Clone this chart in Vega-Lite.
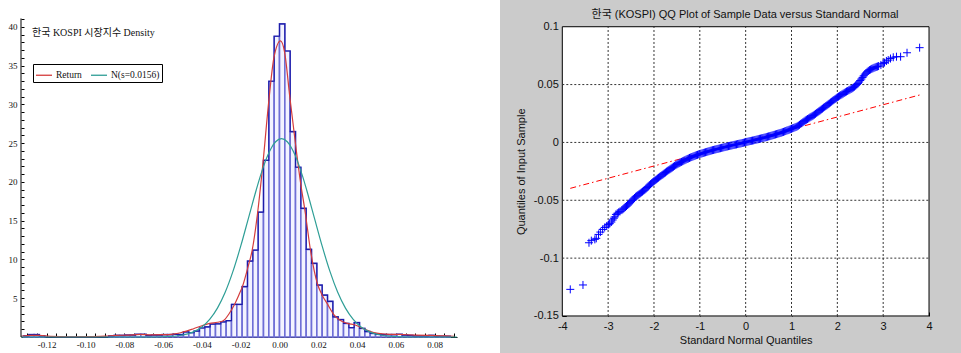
{
  "$schema": "https://vega.github.io/schema/vega-lite/v6.json",
  "padding": {"left": 8, "top": 0, "right": 0, "bottom": 0},
  "background": "white",
  "spacing": 40,
  "config": {"view": {"stroke": null}, "axis": {"labelOverlap": false, "labelFlush": false, "labelBound": false, "grid": false, "zindex": 1}},
  "datasets": {
    "hist": [
      {"lo": -0.132, "hi": -0.12925, "d": 0.15},
      {"lo": -0.12925, "hi": -0.1265, "d": 0.3},
      {"lo": -0.1265, "hi": -0.12375, "d": 0.3},
      {"lo": -0.12375, "hi": -0.121, "d": 0.15},
      {"lo": -0.121, "hi": -0.11825, "d": 0},
      {"lo": -0.088, "hi": -0.08525, "d": 0.15},
      {"lo": -0.08525, "hi": -0.0825, "d": 0.2},
      {"lo": -0.0825, "hi": -0.07975, "d": 0.2},
      {"lo": -0.07975, "hi": -0.077, "d": 0.25},
      {"lo": -0.077, "hi": -0.07425, "d": 0.25},
      {"lo": -0.07425, "hi": -0.0715, "d": 0.35},
      {"lo": -0.0715, "hi": -0.06875, "d": 0.35},
      {"lo": -0.06875, "hi": -0.066, "d": 0.2},
      {"lo": -0.066, "hi": -0.06325, "d": 0.25},
      {"lo": -0.06325, "hi": -0.0605, "d": 0.25},
      {"lo": -0.0605, "hi": -0.05775, "d": 0.3},
      {"lo": -0.05775, "hi": -0.055, "d": 0.3},
      {"lo": -0.055, "hi": -0.05225, "d": 0.35},
      {"lo": -0.05225, "hi": -0.0495, "d": 0.3},
      {"lo": -0.0495, "hi": -0.04675, "d": 0.65},
      {"lo": -0.04675, "hi": -0.044, "d": 0.55},
      {"lo": -0.044, "hi": -0.04125, "d": 0.77},
      {"lo": -0.04125, "hi": -0.0385, "d": 1.16},
      {"lo": -0.0385, "hi": -0.03575, "d": 1.3},
      {"lo": -0.03575, "hi": -0.033, "d": 1.67},
      {"lo": -0.033, "hi": -0.03025, "d": 1.7},
      {"lo": -0.03025, "hi": -0.0275, "d": 1.94},
      {"lo": -0.0275, "hi": -0.02475, "d": 2.1},
      {"lo": -0.02475, "hi": -0.022, "d": 4.2},
      {"lo": -0.022, "hi": -0.01925, "d": 4.2},
      {"lo": -0.01925, "hi": -0.0165, "d": 6.5},
      {"lo": -0.0165, "hi": -0.01375, "d": 9.8},
      {"lo": -0.01375, "hi": -0.011, "d": 11.2},
      {"lo": -0.011, "hi": -0.00825, "d": 16.1},
      {"lo": -0.00825, "hi": -0.0055, "d": 22.8},
      {"lo": -0.0055, "hi": -0.00275, "d": 33.0},
      {"lo": -0.00275, "hi": 0, "d": 38.8},
      {"lo": 0, "hi": 0.00275, "d": 40.4},
      {"lo": 0.00275, "hi": 0.0055, "d": 36.9},
      {"lo": 0.0055, "hi": 0.00825, "d": 26.5},
      {"lo": 0.00825, "hi": 0.011, "d": 21.9},
      {"lo": 0.011, "hi": 0.01375, "d": 16.6},
      {"lo": 0.01375, "hi": 0.0165, "d": 11.3},
      {"lo": 0.0165, "hi": 0.01925, "d": 9.5},
      {"lo": 0.01925, "hi": 0.022, "d": 6.7},
      {"lo": 0.022, "hi": 0.02475, "d": 5.4},
      {"lo": 0.02475, "hi": 0.0275, "d": 4.6},
      {"lo": 0.0275, "hi": 0.03025, "d": 2.6},
      {"lo": 0.03025, "hi": 0.033, "d": 2.25},
      {"lo": 0.033, "hi": 0.03575, "d": 1.75},
      {"lo": 0.03575, "hi": 0.0385, "d": 1.2},
      {"lo": 0.0385, "hi": 0.04125, "d": 1.85},
      {"lo": 0.04125, "hi": 0.044, "d": 1.1},
      {"lo": 0.044, "hi": 0.04675, "d": 0.7},
      {"lo": 0.04675, "hi": 0.0495, "d": 0.45},
      {"lo": 0.0495, "hi": 0.05225, "d": 0.35},
      {"lo": 0.05225, "hi": 0.055, "d": 0.3},
      {"lo": 0.055, "hi": 0.05775, "d": 0.3},
      {"lo": 0.05775, "hi": 0.0605, "d": 0.3},
      {"lo": 0.0605, "hi": 0.06325, "d": 0.35},
      {"lo": 0.06325, "hi": 0.066, "d": 0.25},
      {"lo": 0.066, "hi": 0.06875, "d": 0.2},
      {"lo": 0.06875, "hi": 0.0715, "d": 0.15},
      {"lo": 0.0715, "hi": 0.07425, "d": 0.15},
      {"lo": 0.07425, "hi": 0.077, "d": 0.15},
      {"lo": 0.077, "hi": 0.07975, "d": 0.2},
      {"lo": 0.07975, "hi": 0.0825, "d": 0.1},
      {"lo": 0.0825, "hi": 0.08525, "d": 0.1},
      {"lo": 0.08525, "hi": 0.088, "d": 0.1},
      {"lo": 0.088, "hi": 0.09075, "d": 0}
    ],
    "curves": [
      {"x": -0.1332, "y": 0.1, "series": "Return"},
      {"x": -0.128, "y": 0.2, "series": "Return"},
      {"x": -0.124, "y": 0.2, "series": "Return"},
      {"x": -0.118, "y": 0.08, "series": "Return"},
      {"x": -0.108, "y": 0.03, "series": "Return"},
      {"x": -0.098, "y": 0.05, "series": "Return"},
      {"x": -0.09, "y": 0.12, "series": "Return"},
      {"x": -0.084, "y": 0.2, "series": "Return"},
      {"x": -0.078, "y": 0.25, "series": "Return"},
      {"x": -0.072, "y": 0.33, "series": "Return"},
      {"x": -0.066, "y": 0.28, "series": "Return"},
      {"x": -0.06, "y": 0.3, "series": "Return"},
      {"x": -0.055, "y": 0.38, "series": "Return"},
      {"x": -0.051, "y": 0.55, "series": "Return"},
      {"x": -0.048, "y": 0.75, "series": "Return"},
      {"x": -0.044, "y": 1.1, "series": "Return"},
      {"x": -0.04, "y": 1.45, "series": "Return"},
      {"x": -0.036, "y": 1.75, "series": "Return"},
      {"x": -0.032, "y": 1.9, "series": "Return"},
      {"x": -0.029, "y": 2.1, "series": "Return"},
      {"x": -0.026, "y": 3.0, "series": "Return"},
      {"x": -0.0234, "y": 4.1, "series": "Return"},
      {"x": -0.021, "y": 5.4, "series": "Return"},
      {"x": -0.019, "y": 6.6, "series": "Return"},
      {"x": -0.0165, "y": 8.8, "series": "Return"},
      {"x": -0.014, "y": 11.3, "series": "Return"},
      {"x": -0.0114, "y": 15.8, "series": "Return"},
      {"x": -0.0087, "y": 22, "series": "Return"},
      {"x": -0.0055, "y": 30.5, "series": "Return"},
      {"x": -0.0029, "y": 36, "series": "Return"},
      {"x": 0.0005, "y": 38.2, "series": "Return"},
      {"x": 0.0026, "y": 36.8, "series": "Return"},
      {"x": 0.0053, "y": 31, "series": "Return"},
      {"x": 0.0082, "y": 25, "series": "Return"},
      {"x": 0.0108, "y": 20, "series": "Return"},
      {"x": 0.0133, "y": 16, "series": "Return"},
      {"x": 0.0159, "y": 11.3, "series": "Return"},
      {"x": 0.0195, "y": 6.9, "series": "Return"},
      {"x": 0.022, "y": 5.4, "series": "Return"},
      {"x": 0.0246, "y": 4.3, "series": "Return"},
      {"x": 0.028, "y": 2.9, "series": "Return"},
      {"x": 0.031, "y": 2.2, "series": "Return"},
      {"x": 0.035, "y": 1.75, "series": "Return"},
      {"x": 0.039, "y": 1.55, "series": "Return"},
      {"x": 0.043, "y": 1.1, "series": "Return"},
      {"x": 0.047, "y": 0.7, "series": "Return"},
      {"x": 0.05, "y": 0.5, "series": "Return"},
      {"x": 0.055, "y": 0.38, "series": "Return"},
      {"x": 0.062, "y": 0.33, "series": "Return"},
      {"x": 0.07, "y": 0.25, "series": "Return"},
      {"x": 0.078, "y": 0.2, "series": "Return"},
      {"x": 0.0855, "y": 0.15, "series": "Return"},
      {"x": 0.09, "y": 0.1, "series": "Return"},
      {"x": -0.1332, "y": 0, "series": "N(s=0.0156)"},
      {"x": -0.09, "y": 0, "series": "N(s=0.0156)"},
      {"x": -0.07, "y": 0.003, "series": "N(s=0.0156)"},
      {"x": -0.06, "y": 0.035, "series": "N(s=0.0156)"},
      {"x": -0.05, "y": 0.255, "series": "N(s=0.0156)"},
      {"x": -0.045, "y": 0.603, "series": "N(s=0.0156)"},
      {"x": -0.04, "y": 1.3, "series": "N(s=0.0156)"},
      {"x": -0.036, "y": 2.27, "series": "N(s=0.0156)"},
      {"x": -0.032, "y": 3.72, "series": "N(s=0.0156)"},
      {"x": -0.028, "y": 5.77, "series": "N(s=0.0156)"},
      {"x": -0.024, "y": 8.46, "series": "N(s=0.0156)"},
      {"x": -0.02, "y": 11.72, "series": "N(s=0.0156)"},
      {"x": -0.016, "y": 15.34, "series": "N(s=0.0156)"},
      {"x": -0.012, "y": 18.97, "series": "N(s=0.0156)"},
      {"x": -0.01, "y": 20.66, "series": "N(s=0.0156)"},
      {"x": -0.008, "y": 22.17, "series": "N(s=0.0156)"},
      {"x": -0.006, "y": 23.47, "series": "N(s=0.0156)"},
      {"x": -0.004, "y": 24.49, "series": "N(s=0.0156)"},
      {"x": -0.002, "y": 25.19, "series": "N(s=0.0156)"},
      {"x": 0.001, "y": 25.6, "series": "N(s=0.0156)"},
      {"x": 0.004, "y": 25.19, "series": "N(s=0.0156)"},
      {"x": 0.006, "y": 24.49, "series": "N(s=0.0156)"},
      {"x": 0.008, "y": 23.47, "series": "N(s=0.0156)"},
      {"x": 0.01, "y": 22.17, "series": "N(s=0.0156)"},
      {"x": 0.012, "y": 20.66, "series": "N(s=0.0156)"},
      {"x": 0.014, "y": 18.97, "series": "N(s=0.0156)"},
      {"x": 0.018, "y": 15.34, "series": "N(s=0.0156)"},
      {"x": 0.022, "y": 11.72, "series": "N(s=0.0156)"},
      {"x": 0.026, "y": 8.46, "series": "N(s=0.0156)"},
      {"x": 0.03, "y": 5.77, "series": "N(s=0.0156)"},
      {"x": 0.034, "y": 3.72, "series": "N(s=0.0156)"},
      {"x": 0.038, "y": 2.27, "series": "N(s=0.0156)"},
      {"x": 0.042, "y": 1.3, "series": "N(s=0.0156)"},
      {"x": 0.047, "y": 0.603, "series": "N(s=0.0156)"},
      {"x": 0.052, "y": 0.255, "series": "N(s=0.0156)"},
      {"x": 0.062, "y": 0.035, "series": "N(s=0.0156)"},
      {"x": 0.072, "y": 0.003, "series": "N(s=0.0156)"},
      {"x": 0.0914, "y": 0, "series": "N(s=0.0156)"}
    ],
    "qq": [
      {"q": -3.826, "v": -0.127}, {"q": -3.549, "v": -0.1232}, {"q": -3.418, "v": -0.0867}, {"q": -3.367, "v": -0.0849},
      {"q": -3.29, "v": -0.0838}, {"q": -3.258, "v": -0.0829}, {"q": -3.21, "v": -0.0795}, {"q": -3.17, "v": -0.0775},
      {"q": -3.12, "v": -0.0752}, {"q": -3.075, "v": -0.0735}, {"q": -3.03, "v": -0.0722}, {"q": -2.99, "v": -0.071},
      {"q": -2.966, "v": -0.0702}, {"q": -2.93, "v": -0.0688}, {"q": -2.9, "v": -0.067}, {"q": -2.875, "v": -0.0655},
      {"q": -2.857, "v": -0.0644}, {"q": -2.83, "v": -0.0622}, {"q": -2.8, "v": -0.0612}, {"q": -2.77, "v": -0.0604},
      {"q": -2.74, "v": -0.0596}, {"q": -2.7, "v": -0.0585}, {"q": -2.675, "v": -0.0577}, {"q": -2.65, "v": -0.0568},
      {"q": -2.625, "v": -0.0559}, {"q": -2.6, "v": -0.055}, {"q": -2.575, "v": -0.054}, {"q": -2.55, "v": -0.053},
      {"q": -2.525, "v": -0.0521}, {"q": -2.5, "v": -0.0512}, {"q": -2.475, "v": -0.0501}, {"q": -2.45, "v": -0.049},
      {"q": -2.425, "v": -0.048}, {"q": -2.4, "v": -0.047}, {"q": -2.375, "v": -0.0462}, {"q": -2.35, "v": -0.0455},
      {"q": -2.325, "v": -0.0447}, {"q": -2.3, "v": -0.044}, {"q": -2.275, "v": -0.0432}, {"q": -2.25, "v": -0.0425},
      {"q": -2.225, "v": -0.0417}, {"q": -2.2, "v": -0.041}, {"q": -2.175, "v": -0.04}, {"q": -2.15, "v": -0.039},
      {"q": -2.125, "v": -0.038}, {"q": -2.1, "v": -0.037}, {"q": -2.075, "v": -0.0361}, {"q": -2.05, "v": -0.0352},
      {"q": -2.025, "v": -0.0343}, {"q": -2.0, "v": -0.0335}, {"q": -1.975, "v": -0.0327}, {"q": -1.95, "v": -0.032},
      {"q": -1.925, "v": -0.0312}, {"q": -1.9, "v": -0.0305}, {"q": -1.875, "v": -0.0297}, {"q": -1.85, "v": -0.029},
      {"q": -1.825, "v": -0.0282}, {"q": -1.8, "v": -0.0275}, {"q": -1.775, "v": -0.0267}, {"q": -1.75, "v": -0.026},
      {"q": -1.725, "v": -0.0252}, {"q": -1.7, "v": -0.0245}, {"q": -1.675, "v": -0.0238}, {"q": -1.65, "v": -0.0231},
      {"q": -1.625, "v": -0.0224}, {"q": -1.6, "v": -0.0217}, {"q": -1.575, "v": -0.021}, {"q": -1.55, "v": -0.0203},
      {"q": -1.525, "v": -0.0196}, {"q": -1.5, "v": -0.019}, {"q": -1.475, "v": -0.0184}, {"q": -1.45, "v": -0.0179},
      {"q": -1.425, "v": -0.0173}, {"q": -1.4, "v": -0.0168}, {"q": -1.375, "v": -0.0163}, {"q": -1.35, "v": -0.0158},
      {"q": -1.325, "v": -0.0153}, {"q": -1.3, "v": -0.0148}, {"q": -1.275, "v": -0.0143}, {"q": -1.25, "v": -0.0139},
      {"q": -1.225, "v": -0.0134}, {"q": -1.2, "v": -0.013}, {"q": -1.175, "v": -0.0126}, {"q": -1.15, "v": -0.0122},
      {"q": -1.125, "v": -0.0118}, {"q": -1.1, "v": -0.0114}, {"q": -1.075, "v": -0.011}, {"q": -1.05, "v": -0.0107},
      {"q": -1.025, "v": -0.0103}, {"q": -1.0, "v": -0.01}, {"q": -0.975, "v": -0.0097}, {"q": -0.95, "v": -0.0094},
      {"q": -0.925, "v": -0.0091}, {"q": -0.9, "v": -0.0088}, {"q": -0.875, "v": -0.0085}, {"q": -0.85, "v": -0.0082},
      {"q": -0.825, "v": -0.0079}, {"q": -0.8, "v": -0.0076}, {"q": -0.775, "v": -0.0073}, {"q": -0.75, "v": -0.007},
      {"q": -0.725, "v": -0.0067}, {"q": -0.7, "v": -0.0065}, {"q": -0.675, "v": -0.0062}, {"q": -0.65, "v": -0.006},
      {"q": -0.625, "v": -0.0057}, {"q": -0.6, "v": -0.0055}, {"q": -0.575, "v": -0.0052}, {"q": -0.55, "v": -0.005},
      {"q": -0.525, "v": -0.0047}, {"q": -0.5, "v": -0.0045}, {"q": -0.475, "v": -0.0042}, {"q": -0.45, "v": -0.004},
      {"q": -0.425, "v": -0.0037}, {"q": -0.4, "v": -0.0035}, {"q": -0.375, "v": -0.0032}, {"q": -0.35, "v": -0.003},
      {"q": -0.325, "v": -0.0028}, {"q": -0.3, "v": -0.0026}, {"q": -0.275, "v": -0.0023}, {"q": -0.25, "v": -0.0021},
      {"q": -0.225, "v": -0.0019}, {"q": -0.2, "v": -0.0017}, {"q": -0.175, "v": -0.0014}, {"q": -0.15, "v": -0.0012},
      {"q": -0.125, "v": -0.001}, {"q": -0.1, "v": -0.0008}, {"q": -0.075, "v": -0.0005}, {"q": -0.05, "v": -0.0003},
      {"q": -0.025, "v": 0.0}, {"q": 0.0, "v": 0.0003}, {"q": 0.025, "v": 0.0005}, {"q": 0.05, "v": 0.0007},
      {"q": 0.075, "v": 0.001}, {"q": 0.1, "v": 0.0012}, {"q": 0.125, "v": 0.0014}, {"q": 0.15, "v": 0.0016},
      {"q": 0.175, "v": 0.0018}, {"q": 0.2, "v": 0.0021}, {"q": 0.225, "v": 0.0023}, {"q": 0.25, "v": 0.0026},
      {"q": 0.275, "v": 0.0028}, {"q": 0.3, "v": 0.0031}, {"q": 0.325, "v": 0.0033}, {"q": 0.35, "v": 0.0036},
      {"q": 0.375, "v": 0.0038}, {"q": 0.4, "v": 0.0041}, {"q": 0.425, "v": 0.0043}, {"q": 0.45, "v": 0.0046},
      {"q": 0.475, "v": 0.0049}, {"q": 0.5, "v": 0.0052}, {"q": 0.525, "v": 0.0054}, {"q": 0.55, "v": 0.0057},
      {"q": 0.575, "v": 0.006}, {"q": 0.6, "v": 0.0063}, {"q": 0.625, "v": 0.0066}, {"q": 0.65, "v": 0.0069},
      {"q": 0.675, "v": 0.0072}, {"q": 0.7, "v": 0.0075}, {"q": 0.725, "v": 0.0078}, {"q": 0.75, "v": 0.0081},
      {"q": 0.775, "v": 0.0084}, {"q": 0.8, "v": 0.0088}, {"q": 0.825, "v": 0.0091}, {"q": 0.85, "v": 0.0095},
      {"q": 0.875, "v": 0.0099}, {"q": 0.9, "v": 0.0103}, {"q": 0.925, "v": 0.0106}, {"q": 0.95, "v": 0.011},
      {"q": 0.975, "v": 0.0114}, {"q": 1.0, "v": 0.0118}, {"q": 1.025, "v": 0.0122}, {"q": 1.05, "v": 0.0126},
      {"q": 1.075, "v": 0.013}, {"q": 1.1, "v": 0.0134}, {"q": 1.125, "v": 0.0139}, {"q": 1.15, "v": 0.0145},
      {"q": 1.175, "v": 0.0152}, {"q": 1.2, "v": 0.016}, {"q": 1.225, "v": 0.0167}, {"q": 1.25, "v": 0.0175},
      {"q": 1.275, "v": 0.0182}, {"q": 1.3, "v": 0.019}, {"q": 1.325, "v": 0.0196}, {"q": 1.35, "v": 0.0202},
      {"q": 1.375, "v": 0.0208}, {"q": 1.4, "v": 0.0215}, {"q": 1.425, "v": 0.0221}, {"q": 1.45, "v": 0.0227},
      {"q": 1.475, "v": 0.0233}, {"q": 1.5, "v": 0.024}, {"q": 1.525, "v": 0.0247}, {"q": 1.55, "v": 0.0255},
      {"q": 1.575, "v": 0.0262}, {"q": 1.6, "v": 0.027}, {"q": 1.625, "v": 0.0277}, {"q": 1.65, "v": 0.0285},
      {"q": 1.675, "v": 0.0292}, {"q": 1.7, "v": 0.03}, {"q": 1.725, "v": 0.0307}, {"q": 1.75, "v": 0.0315},
      {"q": 1.775, "v": 0.0322}, {"q": 1.8, "v": 0.033}, {"q": 1.825, "v": 0.0337}, {"q": 1.85, "v": 0.0345},
      {"q": 1.875, "v": 0.0352}, {"q": 1.9, "v": 0.036}, {"q": 1.925, "v": 0.0367}, {"q": 1.95, "v": 0.0375},
      {"q": 1.975, "v": 0.0382}, {"q": 2.0, "v": 0.039}, {"q": 2.025, "v": 0.0396}, {"q": 2.05, "v": 0.0403},
      {"q": 2.075, "v": 0.0409}, {"q": 2.1, "v": 0.0415}, {"q": 2.125, "v": 0.0421}, {"q": 2.15, "v": 0.0428},
      {"q": 2.175, "v": 0.0434}, {"q": 2.2, "v": 0.044}, {"q": 2.225, "v": 0.0445}, {"q": 2.25, "v": 0.0451},
      {"q": 2.275, "v": 0.0456}, {"q": 2.3, "v": 0.0462}, {"q": 2.325, "v": 0.0468}, {"q": 2.35, "v": 0.0475},
      {"q": 2.375, "v": 0.0482}, {"q": 2.4, "v": 0.049}, {"q": 2.425, "v": 0.05}, {"q": 2.45, "v": 0.051},
      {"q": 2.475, "v": 0.0522}, {"q": 2.5, "v": 0.0535}, {"q": 2.525, "v": 0.0548}, {"q": 2.55, "v": 0.0562},
      {"q": 2.575, "v": 0.0576}, {"q": 2.6, "v": 0.059}, {"q": 2.625, "v": 0.06}, {"q": 2.65, "v": 0.061},
      {"q": 2.675, "v": 0.0618}, {"q": 2.7, "v": 0.0625}, {"q": 2.725, "v": 0.063}, {"q": 2.75, "v": 0.0636},
      {"q": 2.775, "v": 0.064}, {"q": 2.8, "v": 0.0645}, {"q": 2.825, "v": 0.0649}, {"q": 2.85, "v": 0.0653},
      {"q": 2.875, "v": 0.0656}, {"q": 2.9, "v": 0.066}, {"q": 2.95, "v": 0.067}, {"q": 3.0, "v": 0.0683},
      {"q": 3.03, "v": 0.069}, {"q": 3.07, "v": 0.0704}, {"q": 3.11, "v": 0.0712}, {"q": 3.16, "v": 0.0725},
      {"q": 3.22, "v": 0.0736}, {"q": 3.29, "v": 0.0741}, {"q": 3.38, "v": 0.0741}, {"q": 3.52, "v": 0.0775},
      {"q": 3.795, "v": 0.0819}
    ]
  },
  "hconcat": [
    {
      "width": 436,
      "height": 337,
      "title": {
        "text": "한국 KOSPI 시장지수 Density",
        "anchor": "start",
        "frame": "group",
        "offset": -38,
        "dx": 11,
        "font": "Liberation Serif, Noto Sans CJK KR",
        "fontSize": 10,
        "fontWeight": "normal",
        "color": "#111111"
      },
      "layer": [
        {
          "data": {"name": "hist"},
          "transform": [{"filter": "datum.d > 0"}],
          "mark": {"type": "rect", "fill": "#f3f3ff", "stroke": "#6e6ed6", "strokeWidth": 1.6},
          "encoding": {
            "x": {
              "field": "lo", "type": "quantitative", "title": null,
              "scale": {"domain": [-0.13325, 0.09149], "nice": false, "zero": false},
              "axis": {
                "values": [-0.13, -0.125, -0.12, -0.115, -0.11, -0.105, -0.1, -0.095, -0.09, -0.085, -0.08, -0.075, -0.07, -0.065, -0.06, -0.055, -0.05, -0.045, -0.04, -0.035, -0.03, -0.025, -0.02, -0.015, -0.01, -0.005, 0, 0.005, 0.01, 0.015, 0.02, 0.025, 0.03, 0.035, 0.04, 0.045, 0.05, 0.055, 0.06, 0.065, 0.07, 0.075, 0.08, 0.085, 0.09],
                "tickCount": 200,
                "labelExpr": "abs(round(datum.value * 1000) % 20) == 0 ? replace(format(datum.value, '.2f'), '\u2212', '-') : ''",
                "labelOverlap": false,
                "labelFlush": false,
                "domain": true,
                "domainColor": "#000000",
                "domainWidth": 1,
                "ticks": true,
                "tickSize": -4,
                "tickColor": "#000000",
                "labelPadding": 7,
                "labelFont": "Liberation Serif",
                "labelFontSize": 9,
                "labelColor": "#111111"
              }
            },
            "x2": {"field": "hi"},
            "y": {
              "field": "d", "type": "quantitative", "title": null,
              "scale": {"domain": [0, 43.48], "nice": false, "zero": false},
              "axis": {
                "values": [1, 2, 3, 4, 5, 6, 7, 8, 9, 10, 11, 12, 13, 14, 15, 16, 17, 18, 19, 20, 21, 22, 23, 24, 25, 26, 27, 28, 29, 30, 31, 32, 33, 34, 35, 36, 37, 38, 39, 40, 41],
                "tickCount": 200,
                "labelExpr": "datum.value % 5 == 0 ? '' + datum.value : ''",
                "labelOverlap": false,
                "domain": false,
                "ticks": true,
                "tickSize": -3,
                "tickColor": "#000000",
                "labelPadding": 7,
                "labelFont": "Liberation Serif",
                "labelFontSize": 9,
                "labelColor": "#111111"
              }
            },
            "y2": {"datum": 0}
          }
        },
        {
          "data": {"name": "hist"},
          "mark": {"type": "line", "interpolate": "step-after", "color": "#1c1ca8", "strokeWidth": 1.2},
          "encoding": {
            "x": {"field": "lo", "type": "quantitative", "title": null, "scale": {"domain": [-0.13325, 0.09149], "nice": false, "zero": false}},
            "y": {"field": "d", "type": "quantitative", "title": null, "scale": {"domain": [0, 43.48], "nice": false, "zero": false}}
          }
        },
        {
          "data": {"name": "curves"},
          "mark": {"type": "line", "interpolate": "monotone", "strokeWidth": 1.2},
          "encoding": {
            "x": {"field": "x", "type": "quantitative", "title": null, "scale": {"domain": [-0.13325, 0.09149], "nice": false, "zero": false}},
            "y": {"field": "y", "type": "quantitative", "title": null, "scale": {"domain": [0, 43.48], "nice": false, "zero": false}},
            "color": {
              "field": "series", "type": "nominal",
              "scale": {"domain": ["Return", "N(s=0.0156)"], "range": ["#d43c3c", "#2e9e96"]},
              "legend": {
                "title": null,
                "orient": "none",
                "legendX": 12,
                "legendY": 64,
                "direction": "horizontal",
                "strokeColor": "#000000",
                "fillColor": "#ffffff",
                "padding": 2,
                "cornerRadius": 0,
                "symbolType": "stroke",
                "symbolSize": 256,
                "symbolStrokeWidth": 1.3,
                "labelFont": "Liberation Serif",
                "labelFontSize": 9.5,
                "labelColor": "#111111",
                "labelOffset": 3,
                "columnPadding": 6
              }
            }
          }
        },
        {
          "data": {"values": [{"xa": -0.13325, "ya": 0, "yb": 41.1}]},
          "mark": {"type": "rule", "color": "#000000", "strokeWidth": 1},
          "encoding": {
            "x": {"field": "xa", "type": "quantitative", "title": null, "scale": {"domain": [-0.13325, 0.09149], "nice": false, "zero": false}},
            "y": {"field": "ya", "type": "quantitative", "title": null, "scale": {"domain": [0, 43.48], "nice": false, "zero": false}},
            "y2": {"field": "yb"}
          }
        }
      ]
    },
    {
      "width": 464,
      "height": 353,
      "view": {"fill": "#cbcbcb", "stroke": null},
      "title": {
        "text": "한국 (KOSPI) QQ Plot of Sample Data versus Standard Normal",
        "anchor": "middle",
        "frame": "group",
        "offset": -20,
        "dx": 13,
        "font": "Liberation Sans, Noto Sans CJK KR",
        "fontSize": 11,
        "fontWeight": "normal",
        "color": "#111111"
      },
      "layer": [
        {
          "data": {"values": [{"q0": -4, "q1": 4, "v0": -0.15, "v1": 0.1}]},
          "mark": {"type": "rect", "fill": "#ffffff", "stroke": "#000000", "strokeWidth": 1},
          "encoding": {
            "x": {"field": "q0", "type": "quantitative", "title": "Standard Normal Quantiles", "scale": {"domain": [-5.359, 4.763], "nice": false, "zero": false}},
            "x2": {"field": "q1"},
            "y": {"field": "v0", "type": "quantitative", "title": "Quantiles of Input Sample", "scale": {"domain": [-0.182, 0.1231], "nice": false, "zero": false}},
            "y2": {"field": "v1"}
          }
        },
        {
          "data": {"values": [{"g": -3}, {"g": -2}, {"g": -1}, {"g": 0}, {"g": 1}, {"g": 2}, {"g": 3}]},
          "mark": {"type": "rule", "color": "#333333", "strokeWidth": 1, "strokeDash": [2, 2]},
          "encoding": {
            "x": {"field": "g", "type": "quantitative", "title": "Standard Normal Quantiles", "scale": {"domain": [-5.359, 4.763], "nice": false, "zero": false}},
            "y": {"datum": -0.15, "title": "Quantiles of Input Sample", "scale": {"domain": [-0.182, 0.1231], "nice": false, "zero": false}},
            "y2": {"datum": 0.1}
          }
        },
        {
          "data": {"values": [{"h": -0.1}, {"h": -0.05}, {"h": 0}, {"h": 0.05}]},
          "mark": {"type": "rule", "color": "#333333", "strokeWidth": 1, "strokeDash": [2, 2]},
          "encoding": {
            "y": {"field": "h", "type": "quantitative", "title": "Quantiles of Input Sample", "scale": {"domain": [-0.182, 0.1231], "nice": false, "zero": false}},
            "x": {"datum": -4, "title": "Standard Normal Quantiles", "scale": {"domain": [-5.359, 4.763], "nice": false, "zero": false}},
            "x2": {"datum": 4}
          }
        },
        {
          "data": {"values": [{"q": -3.826, "v": -0.0397}, {"q": 3.795, "v": 0.041}]},
          "mark": {"type": "line", "color": "#ff0000", "strokeWidth": 1, "strokeDash": [6, 3, 1.5, 3]},
          "encoding": {
            "x": {"field": "q", "type": "quantitative", "title": "Standard Normal Quantiles", "scale": {"domain": [-5.359, 4.763], "nice": false, "zero": false}},
            "y": {"field": "v", "type": "quantitative", "title": "Quantiles of Input Sample", "scale": {"domain": [-0.182, 0.1231], "nice": false, "zero": false}}
          }
        },
        {
          "data": {"name": "qq"},
          "mark": {"type": "point", "shape": "M-1,0L1,0M0,-1L0,1", "filled": false, "stroke": "#0000ff", "strokeWidth": 1, "size": 64, "opacity": 1},
          "encoding": {
            "x": {
              "field": "q", "type": "quantitative", "title": "Standard Normal Quantiles",
              "scale": {"domain": [-5.359, 4.763], "nice": false, "zero": false},
              "axis": {
                "titleFont": "Liberation Sans",
                "titleFontSize": 11,
                "titleFontWeight": "normal",
                "titleColor": "#111111",
                "titleX": 245.7,
                "titlePadding": 3,
                "offset": -37,
                "values": [-4, -3, -2, -1, 0, 1, 2, 3, 4],
                "tickCount": 50,
                "labelExpr": "'' + datum.value",
                "labelFont": "Liberation Sans",
                "labelFontSize": 11,
                "labelColor": "#111111",
                "labelPadding": 8,
                "domain": false,
                "ticks": true,
                "tickSize": -4,
                "tickColor": "#000000"
              }
            },
            "y": {
              "field": "v", "type": "quantitative", "title": "Quantiles of Input Sample",
              "scale": {"domain": [-0.182, 0.1231], "nice": false, "zero": false},
              "axis": {
                "titleFont": "Liberation Sans",
                "titleFontSize": 11,
                "titleFontWeight": "normal",
                "titleColor": "#111111",
                "titleY": 171.3,
                "titlePadding": 7,
                "offset": -62.3,
                "values": [-0.15, -0.1, -0.05, 0, 0.05, 0.1],
                "tickCount": 50,
                "labelExpr": "'' + datum.value",
                "labelFont": "Liberation Sans",
                "labelFontSize": 11,
                "labelColor": "#111111",
                "labelPadding": 8,
                "domain": false,
                "ticks": true,
                "tickSize": -4,
                "tickColor": "#000000"
              }
            }
          }
        }
      ]
    }
  ]
}
